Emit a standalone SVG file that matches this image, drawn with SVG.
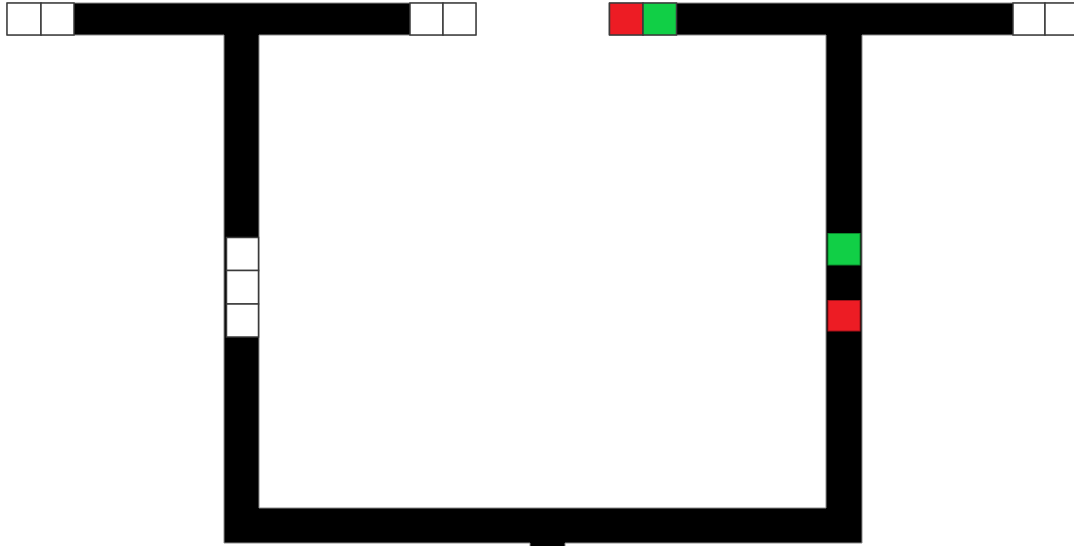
<svg xmlns="http://www.w3.org/2000/svg" width="1074" height="546" viewBox="0 0 1074 546">
<style>
.track{fill:#000;stroke:#8a8a8a;stroke-width:1}
.cell{stroke:#3a3a3a;stroke-width:1.5}
.w{fill:#fff}
.r{fill:#ED1C24}
.g{fill:#11CF46}
</style>
<rect width="1074" height="546" fill="#fff"/>
<g id="track">
<path class="track" d="M7,3 H476 V35 H259 V508 H826 V35 H609 V3 H1080 V35 H862 V543 H565 V550 H530 V543 H224 V35 H7 Z"/>
</g>
<g id="top-left-cells">
<rect class="cell w" x="7" y="3" width="34" height="32"/>
<rect class="cell w" x="41" y="3" width="33" height="32"/>
<rect class="cell w" x="410" y="3" width="33" height="32"/>
<rect class="cell w" x="443" y="3" width="33" height="32"/>
</g>
<g id="top-right-cells">
<rect class="cell r" x="609.5" y="3" width="33.5" height="32"/>
<rect class="cell g" x="643" y="3" width="33.5" height="32"/>
<rect class="cell w" x="1013" y="3" width="32" height="32"/>
<rect class="cell w" x="1045" y="3" width="33" height="32"/>
</g>
<g id="left-cells">
<rect class="cell w" x="226.5" y="237.5" width="32" height="33"/>
<rect class="cell w" x="226.5" y="270.5" width="32" height="33.5"/>
<rect class="cell w" x="226.5" y="304" width="32" height="33"/>
</g>
<g id="right-cells">
<rect class="cell g" x="828" y="233.5" width="32" height="31.5" style="stroke:#0a8a2c;stroke-width:1"/>
<rect class="cell r" x="828" y="300.5" width="32" height="30.5" style="stroke:#a01018;stroke-width:1"/>
</g>
</svg>
